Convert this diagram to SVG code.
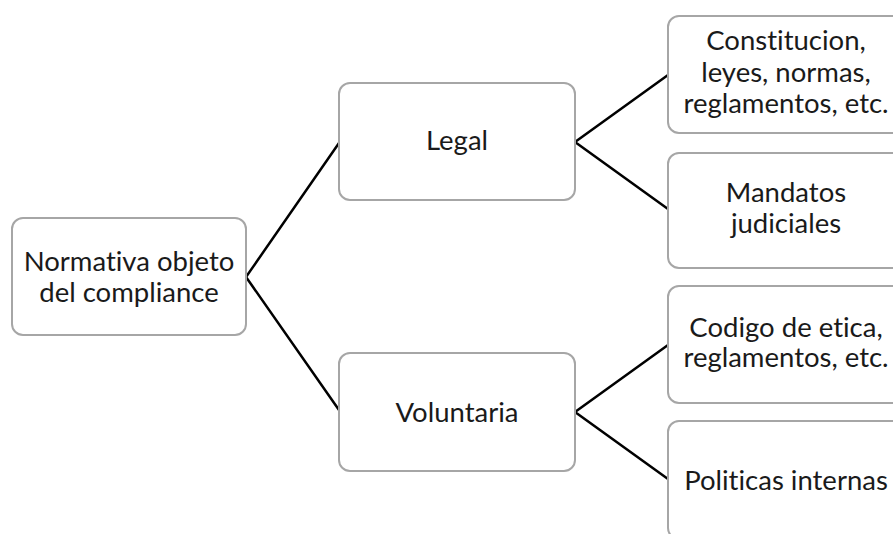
<svg xmlns="http://www.w3.org/2000/svg" width="893" height="534" viewBox="0 0 893 534">
<style>
.box{fill:#ffffff;stroke:#a6a6a6;stroke-width:2}
.t{font-family:Lato,"Liberation Sans",sans-serif;font-size:27.5px;fill:#1a1a1a;text-anchor:middle;font-variant-ligatures:none;font-feature-settings:"liga" 0}
.c{stroke:#000000;stroke-width:2.5;fill:none;stroke-linejoin:miter}
</style>
<rect width="893" height="534" fill="#ffffff"/>
<g id="connectors">
<polyline class="c" points="339,143 246,277 339,410"/>
<polyline class="c" points="668,75 575,142 668,209"/>
<polyline class="c" points="668,345 575,412 668,479"/>
</g>
<g id="root">
<rect class="box" x="12" y="218" width="234" height="117" rx="11"/>
<text class="t" x="129" y="271">Normativa objeto</text>
<text class="t" x="129" y="302">del compliance</text>
</g>
<g id="legal">
<rect class="box" x="339" y="83" width="236" height="117" rx="11"/>
<text class="t" x="457" y="150">Legal</text>
</g>
<g id="voluntaria">
<rect class="box" x="339" y="353" width="236" height="118" rx="11"/>
<text class="t" x="457" y="422">Voluntaria</text>
</g>
<g id="constitucion">
<rect class="box" x="668" y="16" width="236" height="117" rx="11"/>
<text class="t" x="786" y="50">Constitucion,</text>
<text class="t" x="786" y="82">leyes, normas,</text>
<text class="t" x="786" y="113">reglamentos, etc.</text>
</g>
<g id="mandatos">
<rect class="box" x="668" y="153" width="236" height="115" rx="11"/>
<text class="t" x="786" y="202">Mandatos</text>
<text class="t" x="786" y="233">judiciales</text>
</g>
<g id="codigo">
<rect class="box" x="668" y="286" width="236" height="117" rx="11"/>
<text class="t" x="786" y="337">Codigo de etica,</text>
<text class="t" x="786" y="367">reglamentos, etc.</text>
</g>
<g id="politicas">
<rect class="box" x="668" y="421" width="236" height="118" rx="11"/>
<text class="t" x="786" y="490">Politicas internas</text>
</g>
</svg>
